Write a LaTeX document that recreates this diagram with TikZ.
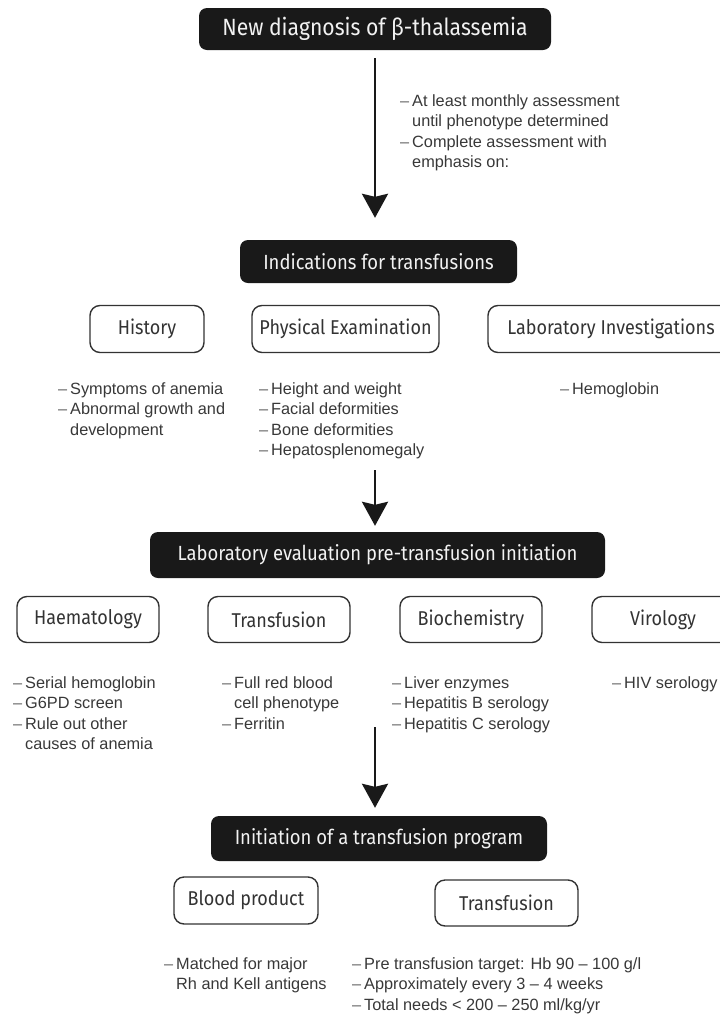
\documentclass[tikz,border=0pt]{standalone}
\usepackage{fontspec}
\setmainfont{Liberation Sans}
\newfontfamily\headfont[FakeStretch=0.9]{Fira Sans}
\usetikzlibrary{arrows.meta}
\newcommand{\itm}[1]{\makebox[12pt][l]{\textcolor{black!60}{–}}#1}
\newcommand{\cnt}[1]{\hspace*{12pt}#1}
\tikzset{
  darkbox/.style={fill=black!90, text=white!95!black, rounded corners=8pt,
    font=\headfont\fontsize{20.5}{24}\selectfont, inner sep=0pt},
  catbox/.style={draw=black!80, line width=1.4pt, rounded corners=10pt, fill=white,
    font=\headfont\fontsize{20}{24}\selectfont, inner sep=0pt, text=black!80},
  bullets/.style={anchor=north west, align=left, inner sep=0pt,
    font=\fontsize{16.3}{20.5}\selectfont, text=black!78},
  flow/.style={line width=2.6pt, black!90, -{Stealth[width=26pt,length=24pt,inset=3pt]}},
}
\begin{document}
\begin{tikzpicture}[x=1pt,y=-1pt]
\useasboundingbox (0,0) rectangle (720,1018);
% level 1
\node[darkbox, minimum width=352pt, minimum height=42pt, font=\headfont\fontsize{23.5}{28}\selectfont] (top) at (375,29) {New diagnosis of β-thalassemia};
\node[bullets] (note) at (400,94) {\itm{At least monthly assessment}\\\cnt{until phenotype determined}\\\itm{Complete assessment with}\\\cnt{emphasis on:}};
% level 2
\node[darkbox, minimum width=277pt, minimum height=43pt] (ind) at (378.5,261.5) {Indications for transfusions};
\node[catbox, minimum width=114pt, minimum height=47pt] (hist) at (147,329) {History};
\node[catbox, minimum width=187pt, minimum height=47pt] (phys) at (345.5,329) {Physical Examination};
\node[catbox, minimum width=246pt, minimum height=47pt] (labinv) at (611,329) {Laboratory Investigations};
\node[bullets] (histb) at (58,382) {\itm{Symptoms of anemia}\\\itm{Abnormal growth and}\\\cnt{development}};
\node[bullets] (physb) at (259,382) {\itm{Height and weight}\\\itm{Facial deformities}\\\itm{Bone deformities}\\\itm{Hepatosplenomegaly}};
\node[bullets] (labinvb) at (560,382) {\itm{Hemoglobin}};
% level 3
\node[darkbox, minimum width=455pt, minimum height=46pt] (lab) at (377.5,555) {Laboratory evaluation pre-transfusion initiation};
\node[catbox, minimum width=142pt, minimum height=46pt] (haem) at (88,619.5) {Haematology};
\node[catbox, minimum width=142pt, minimum height=46pt] (transf) at (279,619.5) {Transfusion};
\node[catbox, minimum width=142pt, minimum height=46pt] (bioch) at (471,619.5) {Biochemistry};
\node[catbox, minimum width=142pt, minimum height=46pt] (viro) at (663,619.5) {Virology};
\node[bullets] (haemb) at (13,676) {\itm{Serial hemoglobin}\\\itm{G6PD screen}\\\itm{Rule out other}\\\cnt{causes of anemia}};
\node[bullets] (transfb) at (222,676) {\itm{Full red blood}\\\cnt{cell phenotype}\\\itm{Ferritin}};
\node[bullets] (biochb) at (392,676) {\itm{Liver enzymes}\\\itm{Hepatitis B serology}\\\itm{Hepatitis C serology}};
\node[bullets] (virob) at (612,676) {\itm{HIV serology}};
% level 4
\node[darkbox, minimum width=336pt, minimum height=45pt] (init) at (379,838.5) {Initiation of a transfusion program};
\node[catbox, minimum width=144pt, minimum height=47pt] (blood) at (246,900.5) {Blood product};
\node[catbox, minimum width=143pt, minimum height=46pt] (trans) at (506.5,903) {Transfusion};
\node[bullets] (bloodb) at (164,957) {\itm{Matched for major}\\\cnt{Rh and Kell antigens}};
\node[bullets] (transb) at (352,957) {\itm{Pre transfusion target: Hb 90 -- 100 g/l}\\\itm{Approximately every 3 -- 4 weeks}\\\itm{Total needs < 200 -- 250 ml/kg/yr}};
% arrows
\coordinate (a2) at (375,470);
\coordinate (a3) at (375,727);
\draw[flow, shorten <=8pt, shorten >=22pt] (top.south) -- (top.south |- ind.north);
\draw[flow, shorten >=6pt] (a2) -- (a2 |- lab.north);
\draw[flow, shorten >=8pt] (a3) -- (a3 |- init.north);
\end{tikzpicture}
\end{document}
